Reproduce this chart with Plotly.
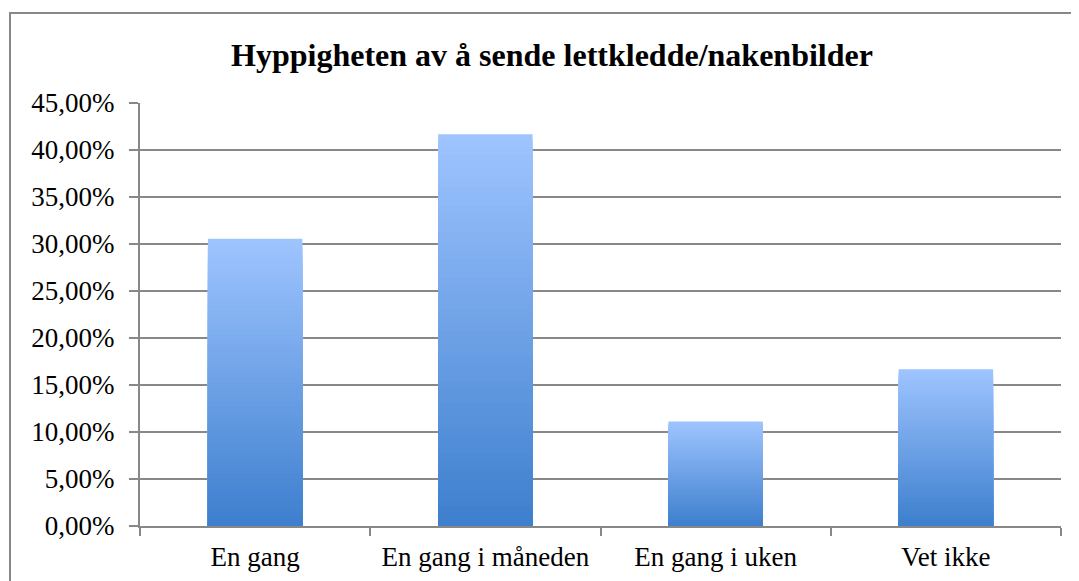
import plotly.graph_objects as go

categories = ["En gang", "En gang i måneden", "En gang i uken", "Vet ikke"]
values = [30.56, 41.67, 11.11, 16.67]
y_ticks = [0, 5, 10, 15, 20, 25, 30, 35, 40, 45]
y_tick_labels = ["0,00%", "5,00%", "10,00%", "15,00%", "20,00%", "25,00%",
                 "30,00%", "35,00%", "40,00%", "45,00%"]

# page has an 8px body margin; size the figure to compensate
OFF = 8
W, H = 1079 - OFF, 581 - OFF
ML, MR, MT, MB = 140 - OFF, 18, 103 - OFF, 55

top_rgb = (158, 196, 255)
bot_rgb = (60, 126, 205)
N = 60

fig = go.Figure()
for k in range(N):
    f = k / N
    frac = 1 - f
    c = tuple(round(top_rgb[i] + (bot_rgb[i] - top_rgb[i]) * f) for i in range(3))
    fig.add_trace(go.Bar(
        x=categories,
        y=[v * frac for v in values],
        marker=dict(color="rgb(%d,%d,%d)" % c, line=dict(width=0)),
        showlegend=False,
        hoverinfo="skip",
    ))

PW = W - ML - MR
PH = H - MT - MB

fig.update_layout(
    width=W, height=H,
    margin=dict(l=ML, r=MR, t=MT, b=MB, autoexpand=False),
    barmode="overlay",
    bargap=0.59,
    paper_bgcolor="white",
    plot_bgcolor="white",
    font=dict(family="Liberation Serif", color="black"),
    title=dict(
        text="<b>Hyppigheten av å sende lettkledde/nakenbilder</b>",
        x=(552 - OFF) / W, xanchor="center",
        y=1 - (55 - OFF) / H, yanchor="middle",
        font=dict(family="Liberation Serif", size=32, color="black"),
    ),
    xaxis=dict(
        showgrid=False,
        showline=True, linecolor="#888888", linewidth=2,
        ticks="outside", tickson="boundaries", ticklen=8, tickwidth=2, tickcolor="#888888",
        tickfont=dict(family="Liberation Serif", size=27),
        ticklabelstandoff=6,
    ),
    yaxis=dict(
        range=[0, 45],
        tickvals=y_ticks,
        ticktext=y_tick_labels,
        showgrid=True, gridcolor="#888888", gridwidth=2,
        showline=True, linecolor="#888888", linewidth=2,
        ticks="outside", ticklen=9, tickwidth=2, tickcolor="#888888",
        tickfont=dict(family="Liberation Serif", size=27),
        ticklabelstandoff=9,
        zeroline=False,
    ),
    shapes=[dict(
        type="rect", xref="paper", yref="paper",
        x0=(10 - 140) / PW, x1=(1077 - 140) / PW,
        y0=-0.3,
        y1=(526 - 13) / PH,
        line=dict(color="#888888", width=2), layer="below",
    )],
)

fig.write_html("out.html")
